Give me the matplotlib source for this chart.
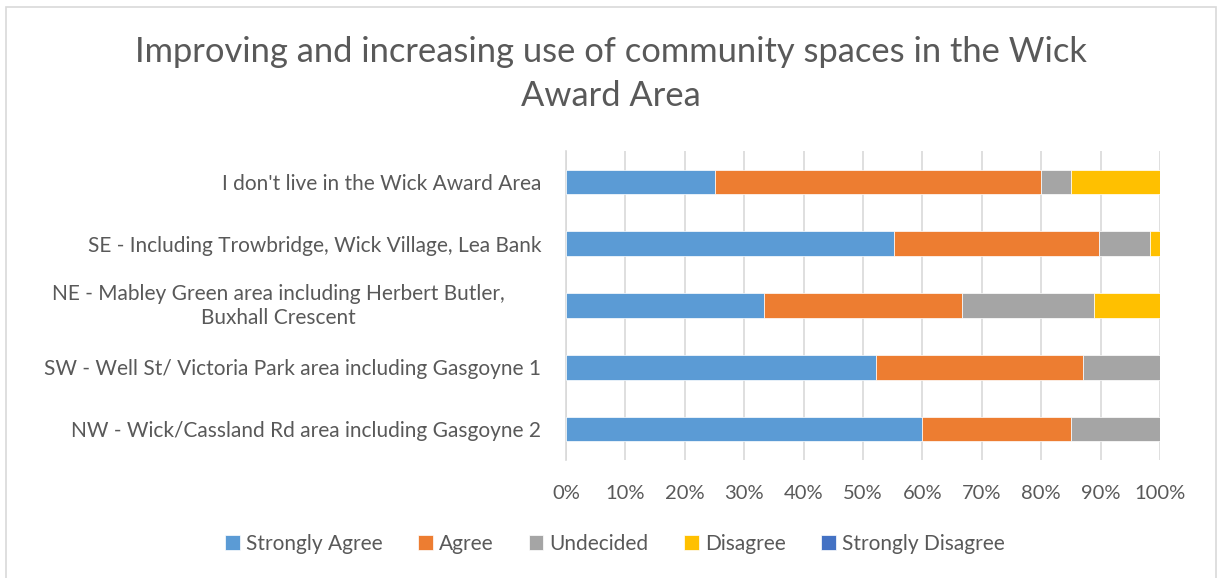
import numpy as np
import matplotlib.pyplot as plt
from matplotlib.patches import Rectangle

# datos (proporciones)
areas = [
    "NW - Wick/Cassland Rd area including Gasgoyne 2",
    "SW - Well St/ Victoria Park area including Gasgoyne 1",
    "NE - Mabley Green area including Herbert Butler,\nBuxhall Crescent",
    "SE - Including Trowbridge, Wick Village, Lea Bank",
    "I don't live in the Wick Award Area",
]
strongly_agree = [0.60, 12 / 23, 3 / 9, 32 / 58, 0.25]
agree = [0.25, 8 / 23, 3 / 9, 20 / 58, 0.55]
undecided = [0.15, 3 / 23, 2 / 9, 5 / 58, 0.05]
disagree = [0.0, 0.0, 1 / 9, 1 / 58, 0.15]
strongly_disagree = [0.0, 0.0, 0.0, 0.0, 0.0]

series = ["Strongly Agree", "Agree", "Undecided", "Disagree", "Strongly Disagree"]
colors = ["#5B9BD5", "#ED7D31", "#A5A5A5", "#FFC000", "#4472C4"]
xticks = np.arange(0, 1.01, 0.1)

plt.rcParams['font.family'] = ['Lato', 'DejaVu Sans']
txt = '#595959'

fig = plt.figure(figsize=(12.18, 5.78), dpi=100)
W, H = 1218, 578
ax = fig.add_axes([566 / W, 1 - 460 / H, 594 / W, 309 / H])

# borde del grafico
fig.patches.append(Rectangle((6 / W, -0.05), 1210 / W, 1 - 7 / H + 0.05,
                             transform=fig.transFigure, fill=False,
                             edgecolor='#D9D9D9', lw=1.2))

y = np.arange(len(areas))
left = np.zeros(len(areas))
for name, vals, c in zip(series, [strongly_agree, agree, undecided, disagree, strongly_disagree], colors):
    vals = np.array(vals)
    ax.barh(y, vals, left=left, height=0.4, color=c, label=name,
            edgecolor='white', linewidth=0.5, zorder=3)
    left += vals

ax.set_xlim(0, 1)
ax.set_ylim(-0.5, len(areas) - 0.5)
ax.set_xticks(xticks)
ax.set_xticklabels([f"{int(round(v * 100))}%" for v in xticks], fontsize=14.5, color=txt)
ax.set_yticks(y)
ax.set_yticklabels([a if '\n' not in a else '' for a in areas], fontsize=15, color=txt)
for i, a in enumerate(areas):
    if '\n' in a:
        ax.text(-0.1027, i, a, transform=ax.get_yaxis_transform(), ha='right', va='center',
                multialignment='center', fontsize=15, color=txt, linespacing=1.25)
ax.tick_params(axis='both', length=0)
ax.tick_params(axis='x', pad=18)
ax.tick_params(axis='y', pad=18)
ax.grid(axis='x', color='#D9D9D9', lw=1.2, zorder=0)
for s in ['top', 'right', 'bottom']:
    ax.spines[s].set_visible(False)
ax.spines['left'].set_color('#D9D9D9')
ax.spines['left'].set_linewidth(1.2)

fig.text(611 / W, 1 - 74 / H, "Improving and increasing use of community spaces in the Wick\nAward Area",
         ha='center', va='center', fontsize=24.8, color=txt, linespacing=1.45)

ax.legend(loc='center', bbox_to_anchor=(615 / W, 1 - 544 / H), bbox_transform=fig.transFigure,
          ncol=5, frameon=False, fontsize=15, labelcolor=txt, handlelength=0.7,
          handleheight=0.7, handletextpad=0.3, columnspacing=1.7)

fig.savefig('out.png', dpi=100)
